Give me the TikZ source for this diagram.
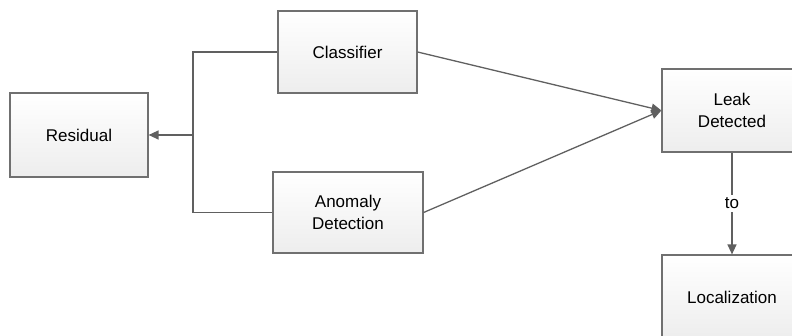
\documentclass[tikz,border=0pt]{standalone}
\usepackage{fontspec}
\setmainfont{Liberation Sans}
\usetikzlibrary{arrows.meta}
\definecolor{edgegray}{HTML}{606060}
\definecolor{boxline}{HTML}{707070}
\begin{document}
\begin{tikzpicture}[x=1pt,y=-1pt,
  box/.style={draw=boxline, line width=1.2pt, rectangle, top color=white, bottom color=black!7,
    align=center, font=\fontsize{17}{22}\selectfont, inner sep=0pt},
  conn/.style={draw=edgegray, line width=1.3pt},
  arr/.style={conn, -{Triangle[length=10pt,width=9pt]}}]
\useasboundingbox (0,0) rectangle (792,336);
\node[box, minimum width=138pt, minimum height=84pt] (res) at (79,135) {Residual};
\node[box, minimum width=139pt, minimum height=82pt] (cls) at (347.5,52) {Classifier};
\node[box, minimum width=150pt, minimum height=81pt] (ano) at (348,212.5) {Anomaly\\Detection};
\node[box, minimum width=140pt, minimum height=83pt] (leak) at (732,110.5) {Leak\\Detected};
\node[box, minimum width=140pt, minimum height=84pt] (loc) at (732,297) {Localization};
\coordinate (bus) at (193,135);
\draw[conn] (cls.west) -| (bus) |- (ano.west);
\draw[arr] (bus) -- (res.east);
\draw[arr] (cls.east) -- (leak.west);
\draw[arr] (ano.east) -- (leak.west);
\draw[arr] (leak.south) -- node[fill=white, font=\fontsize{17}{20}\selectfont, inner sep=3pt] (tolbl) {to} (loc.north);
\end{tikzpicture}
\end{document}
